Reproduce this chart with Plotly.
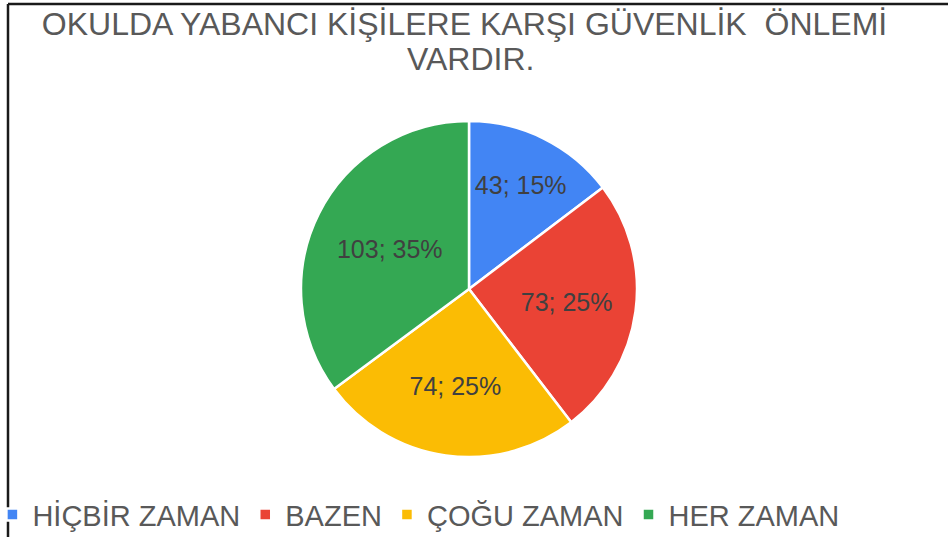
import plotly.graph_objects as go

categories = ["HİÇBİR ZAMAN", "BAZEN", "ÇOĞU ZAMAN", "HER ZAMAN"]
values = [43, 73, 74, 103]
colors = ["#4285F4", "#EA4335", "#FBBC04", "#34A853"]
title_line1 = "OKULDA YABANCI KİŞİLERE KARŞI GÜVENLİK  ÖNLEMİ"
title_line2 = "VARDIR."

W, H = 948, 537
cx, cy, d = 469, 289, 336
FONT = "Liberation Sans, Arial"

fig = go.Figure(go.Pie(
    labels=categories,
    values=values,
    sort=False,
    direction="clockwise",
    rotation=0,
    marker=dict(colors=colors, line=dict(color="white", width=2.5)),
    texttemplate="%{value}; %{percent:.0%}",
    textposition="inside",
    insidetextorientation="horizontal",
    textfont=dict(family=FONT, size=25, color="#404040"),
    hoverinfo="label+value+percent",
    domain=dict(x=[(cx - d / 2) / W, (cx + d / 2) / W],
                y=[(H - cy - d / 2) / H, (H - cy + d / 2) / H]),
))

fig.update_layout(
    width=W, height=H,
    margin=dict(l=0, r=0, t=0, b=0, autoexpand=False),
    paper_bgcolor="white",
    plot_bgcolor="white",
    uniformtext=dict(minsize=25, mode="show"),
    title=dict(text=title_line1, x=0.49, xanchor="center", y=1 - 24 / H, yanchor="middle",
               font=dict(family=FONT, size=32, color="#595959")),
    annotations=[dict(text=title_line2, x=0.496, y=1 - 59 / H, xref="paper", yref="paper",
                      xanchor="center", yanchor="middle", showarrow=False,
                      font=dict(family=FONT, size=32, color="#595959"))],
    legend=dict(orientation="h", x=-0.008, xanchor="left", y=-0.006, yanchor="bottom",
                font=dict(family=FONT, size=29, color="#595959"),
                itemclick=False, bgcolor="rgba(0,0,0,0)"),
    shapes=[
        dict(type="line", xref="paper", yref="paper", x0=8 / W, x1=1, y0=1 - 4 / H, y1=1 - 4 / H,
             line=dict(color="#1a1a1a", width=2.5)),
        dict(type="line", xref="paper", yref="paper", x0=8 / W, x1=8 / W, y0=0, y1=1 - 4 / H,
             line=dict(color="#1a1a1a", width=2.5)),
    ],
)

fig.write_html("out.html", config={"displayModeBar": False},
               post_script="document.body.style.margin='0';")
